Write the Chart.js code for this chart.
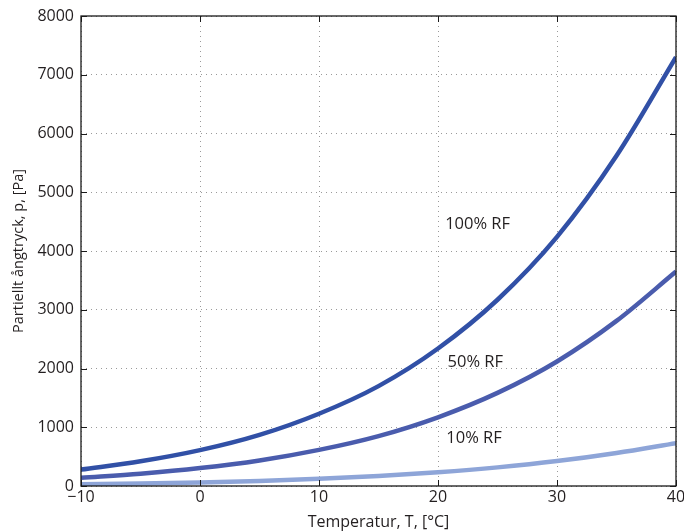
<!DOCTYPE html>
<html>
<head>
<meta charset="utf-8">
<script src="https://cdn.jsdelivr.net/npm/chart.js@4.4.1/dist/chart.umd.min.js"></script>
<style>
  html, body { margin: 0; padding: 0; background: #fff; overflow: hidden; }
  #wrap { width: 684px; height: 531px; }
</style>
</head>
<body>
<div id="wrap"><canvas id="vapour-chart"></canvas></div>
<script>
// temperature [°C] and partial vapour pressure [Pa]
const temps = [-10, -5, 0, 5, 10, 15, 20, 25, 30, 35, 40];
const rf100 = [280, 420, 610, 870, 1230, 1700, 2340, 3170, 4240, 5620, 7300];
const rf50 = [140, 210, 305, 435, 615, 850, 1170, 1585, 2120, 2810, 3650];
const rf10 = [28, 42, 61, 87, 123, 170, 234, 317, 424, 562, 730];

const xTicks = [-10, 0, 10, 20, 30, 40];
const yTicks = [0, 1000, 2000, 3000, 4000, 5000, 6000, 7000, 8000];

const curveLabels = [
  { text: "100% RF", x: 20.6, y: 4450 },
  { text: "50% RF", x: 20.8, y: 2100 },
  { text: "10% RF", x: 20.7, y: 810 },
];

const textColor = "#231f20";
const font = "'Open Sans', 'DejaVu Sans', sans-serif";

const toPoints = (ys) => temps.map((t, i) => ({ x: t, y: ys[i] }));

// frame, inward ticks and the curve labels
const framePlugin = {
  id: "frame",
  afterDraw(chart) {
    const { ctx, chartArea: a, scales } = chart;
    ctx.save();
    ctx.strokeStyle = "#1a1a1a";
    ctx.lineWidth = 1.3;
    ctx.strokeRect(a.left, a.top, a.right - a.left, a.bottom - a.top);
    ctx.lineWidth = 1;
    const len = 6;
    ctx.beginPath();
    xTicks.forEach((v) => {
      const px = Math.round(scales.x.getPixelForValue(v)) + 0.5;
      ctx.moveTo(px, a.bottom); ctx.lineTo(px, a.bottom - len);
      ctx.moveTo(px, a.top); ctx.lineTo(px, a.top + len);
    });
    yTicks.forEach((v) => {
      const py = Math.round(scales.y.getPixelForValue(v)) + 0.5;
      ctx.moveTo(a.left, py); ctx.lineTo(a.left + len, py);
      ctx.moveTo(a.right, py); ctx.lineTo(a.right - len, py);
    });
    ctx.stroke();

    ctx.fillStyle = textColor;
    ctx.font = "16.5px " + font;
    ctx.textBaseline = "middle";
    curveLabels.forEach((l) => {
      ctx.fillText(l.text, scales.x.getPixelForValue(l.x), scales.y.getPixelForValue(l.y));
    });
    ctx.restore();
  },
};

new Chart(document.getElementById("vapour-chart"), {
  type: "line",
  data: {
    datasets: [
      { label: "100% RF", data: toPoints(rf100), borderColor: "#3150a6" },
      { label: "50% RF", data: toPoints(rf50), borderColor: "#4a5cad" },
      { label: "10% RF", data: toPoints(rf10), borderColor: "#8ea5d8" },
    ],
  },
  options: {
    responsive: true,
    maintainAspectRatio: false,
    animation: false,
    layout: { padding: { top: 16, right: 8, left: 0, bottom: 0 } },
    elements: {
      point: { radius: 0 },
      line: { borderWidth: 4.5, cubicInterpolationMode: "monotone", fill: false },
    },
    plugins: { legend: { display: false }, tooltip: { enabled: false } },
    scales: {
      x: {
        type: "linear",
        min: -10,
        max: 40,
        afterBuildTicks: (s) => { s.ticks = xTicks.map((v) => ({ value: v })); },
        afterFit: (s) => { s.height = 45; s.paddingLeft = 0; s.paddingRight = 0; },
        grid: { color: "#9a9a9a", lineWidth: 1, drawTicks: false },
        border: { display: false, dash: [1, 4] },
        ticks: {
          color: textColor,
          font: { family: font, size: 16 },
          padding: 2,
          callback: (v) => (v < 0 ? "\u2212" + Math.abs(v) : String(v)),
        },
        title: {
          display: true,
          text: "Temperatur, T, [°C]",
          color: textColor,
          font: { family: font, size: 16, lineHeight: 1.1 },
          padding: { top: 0, bottom: 0 },
        },
      },
      y: {
        type: "linear",
        min: 0,
        max: 8000,
        afterBuildTicks: (s) => { s.ticks = yTicks.map((v) => ({ value: v })); },
        afterFit: (s) => { s.width = 81; s.paddingTop = 0; s.paddingBottom = 0; },
        grid: { color: "#9a9a9a", lineWidth: 1, drawTicks: false },
        border: { display: false, dash: [1, 4] },
        ticks: {
          color: textColor,
          font: { family: font, size: 16 },
          padding: 7,
          callback: (v) => String(v),
        },
        title: {
          display: true,
          text: "Partiellt ångtryck, p, [Pa]",
          color: textColor,
          font: { family: font, size: 14.5, lineHeight: 1.1 },
          padding: { top: 11, bottom: 0 },
        },
      },
    },
  },
  plugins: [framePlugin],
});
</script>
</body>
</html>
